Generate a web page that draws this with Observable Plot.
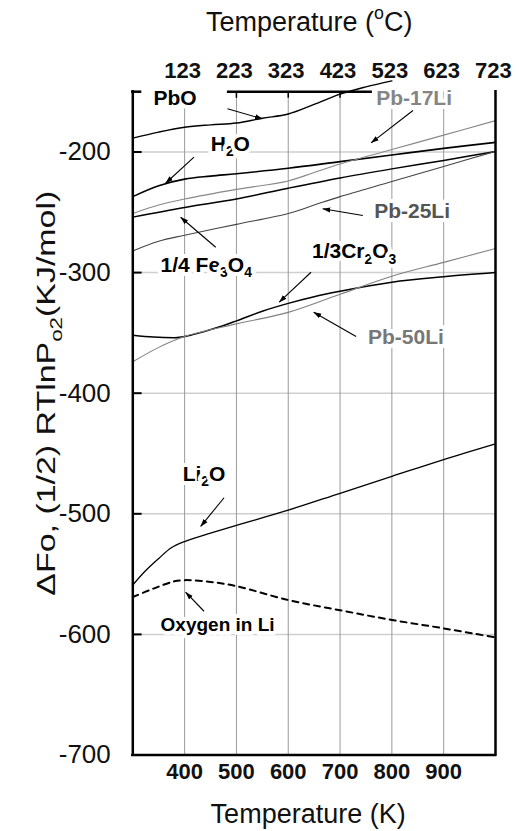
<!DOCTYPE html>
<html><head><meta charset="utf-8">
<script src="https://cdn.jsdelivr.net/npm/d3@7"></script>
<script src="https://cdn.jsdelivr.net/npm/@observablehq/plot@0.6"></script>
<style>
html,body{margin:0;padding:0;background:#fff;}
svg{font-family:"Liberation Sans",Arial,Helvetica,sans-serif;}
</style></head><body><div id="chart"></div>
<script>
// ---- data: [Temperature (K), value (kJ/mol)] ----
const PbO    = [[300,-188.5],[350,-183.5],[400,-179.5],[450,-177.5],[500,-176],[550,-172],[600,-168.5],[650,-160.5],[700,-152],[750,-146],[800,-141]];
const H2O    = [[300,-237],[350,-228],[400,-222.5],[450,-220],[500,-218],[600,-213.5],[700,-208],[800,-202.5],[900,-197],[1000,-192]];
const Pb17Li = [[300,-251],[350,-244],[400,-239],[500,-231],[600,-224],[650,-217],[700,-210],[800,-198],[900,-186],[1000,-174]];
const Fe3O4  = [[300,-254],[400,-246],[500,-239],[600,-230],[700,-221.5],[800,-214],[900,-207],[1000,-199.5]];
const Pb25Li = [[300,-282],[350,-274],[400,-269],[500,-260],[600,-251],[650,-244],[700,-237],[800,-224.5],[900,-212],[1000,-199.5]];
const Cr2O3  = [[300,-352],[340,-353.5],[380,-354],[420,-351],[460,-346],[500,-340],[550,-332],[600,-325.5],[650,-320],[700,-315.5],[800,-308],[900,-303.5],[1000,-300]];
const Pb50Li = [[300,-374],[350,-362],[400,-353],[500,-342.5],[600,-333],[700,-318],[800,-303],[900,-291.5],[1000,-280]];
const Li2O   = [[300,-559],[325,-547],[350,-537],[375,-528],[400,-523],[450,-516],[500,-509.5],[600,-497],[700,-483],[800,-469],[900,-455],[1000,-442]];
const OxygenInLi = [[300,-569],[340,-562],[380,-556],[400,-555],[450,-556.5],[500,-560],[600,-571.5],[700,-580],[800,-588],[900,-595],[1000,-602.5]];

const xTicksK = [400,500,600,700,800,900];
const topTicksC = [123,223,323,423,523,623,723];
const yTicks = [-200,-300,-400,-500,-600,-700];
const yGrid = [-200,-300,-400,-500,-600];
const topFrameSpans = [[300,315],[485,760]];
const topInnerTicks = [500,600,700];

const labels = [
  {text:"PbO", x:340, y:-161.4, fill:"#000", size:21},
  {text:"H_2O", x:450.4, y:-198.8, fill:"#000", size:21},
  {text:"Pb-17Li", x:769.7, y:-161.4, fill:"#858585", size:21},
  {text:"Pb-25Li", x:765.8, y:-255.1, fill:"#555", size:21},
  {text:"1/4 Fe_3O_4", x:353.6, y:-299.2, fill:"#000", size:21},
  {text:"1/3Cr_2O_3", x:645.8, y:-288.3, fill:"#000", size:21},
  {text:"Pb-50Li", x:754, y:-358.8, fill:"#777", size:21},
  {text:"Li_2O", x:396.2, y:-472.4, fill:"#000", size:21},
  {text:"Oxygen in Li", x:353.6, y:-597.2, fill:"#000", size:19}
];
const arrows = [
  {x1:482.7,y1:-164.2,x2:550.4,y2:-172.5},
  {x1:418.1,y1:-204.3,x2:363.3,y2:-225.9},
  {x1:840.7,y1:-165.6,x2:760,y2:-192.4},
  {x1:744,y1:-252.7,x2:666.6,y2:-247.1},
  {x1:460,y1:-279,x2:392.3,y2:-254.1},
  {x1:644,y1:-299.7,x2:582.6,y2:-324.5},
  {x1:731,y1:-353,x2:649.1,y2:-332.8},
  {x1:476.1,y1:-486.7,x2:431,y2:-510.5},
  {x1:437.4,y1:-580.8,x2:402,y2:-565}
];
const yTitle = "ΔFo, (1/2) RTlnP_{o2}(KJ/mol)";

const X = d => d[0], Y = d => d[1];
const curve = "catmull-rom";

const plot = Plot.plot({
  width: 519, height: 831,
  marginLeft: 132.3, marginRight: 24, marginTop: 91.2, marginBottom: 76.5,
  x: {domain:[300,1000], axis:null},
  y: {domain:[-700,-150], axis:null},
  marks: [
    Plot.ruleY(yGrid, {x1:300, x2:1000, stroke:"#cfcfcf", strokeWidth:1.5}),
    Plot.ruleX(xTicksK, {y1:-700, y2:-150, stroke:"#9a9a9a", strokeWidth:1}),
    Plot.line(PbO, {x:X, y:Y, stroke:"#000", strokeWidth:1.4, curve}),
    Plot.line(H2O, {x:X, y:Y, stroke:"#000", strokeWidth:1.6, curve}),
    Plot.line(Pb17Li, {x:X, y:Y, stroke:"#888", strokeWidth:1.1, curve}),
    Plot.line(Fe3O4, {x:X, y:Y, stroke:"#000", strokeWidth:1.5, curve}),
    Plot.line(Pb25Li, {x:X, y:Y, stroke:"#444", strokeWidth:1.1, curve}),
    Plot.line(Cr2O3, {x:X, y:Y, stroke:"#000", strokeWidth:1.5, curve:"monotone-x"}),
    Plot.line(Pb50Li, {x:X, y:Y, stroke:"#808080", strokeWidth:1.1, curve}),
    Plot.line(Li2O, {x:X, y:Y, stroke:"#000", strokeWidth:1.3, curve}),
    Plot.line(OxygenInLi, {x:X, y:Y, stroke:"#000", strokeWidth:2, strokeDasharray:"6,5", curve}),
    Plot.text(labels, {x:"x", y:"y", text:"text", fill:"fill", fontSize:d=>d.size, fontWeight:"bold",
      textAnchor:"start", lineAnchor:"bottom", stroke:"white", strokeWidth:8}),
    // frame
    Plot.ruleX([300,1000], {y1:-700, y2:-150, stroke:"#000", strokeWidth:2.5, strokeLinecap:"square"}),
    Plot.ruleY([-700], {x1:300, x2:1000, stroke:"#000", strokeWidth:2.5, strokeLinecap:"square"}),
    Plot.ruleY(topFrameSpans, {x1:d=>d[0], x2:d=>d[1], y:()=>-150, stroke:"#000", strokeWidth:2.5, strokeLinecap:"square"}),
    Plot.ruleX(topInnerTicks, {y1:-150, y2:-155.5, stroke:"#000", strokeWidth:1.5}),
    Plot.ruleY(yTicks, {x1:300, x2:318, stroke:"#000", strokeWidth:2}),
    // arrows
    Plot.link(arrows, {x1:"x1", y1:"y1", x2:"x2", y2:"y2", stroke:"#000", strokeWidth:1.1}),
    // tick labels
    Plot.text(yTicks, {y:d=>d, frameAnchor:"left", dx:-22, textAnchor:"end", text:d=>String(d), fontSize:26, fill:"#111"}),
    Plot.text(xTicksK, {x:d=>d, frameAnchor:"bottom", dy:8, lineAnchor:"top", text:d=>String(d), fontSize:22, fontWeight:"bold", fill:"#111"}),
    Plot.text(topTicksC, {x:d=>d+273, frameAnchor:"top", dy:-14, lineAnchor:"bottom", text:d=>String(d), fontSize:22, fontWeight:"bold", fill:"#111"}),
    // titles
    Plot.text(["Temperature (^oC)"], {frameAnchor:"top", dx:-5, dy:-61, lineAnchor:"bottom", textAnchor:"middle", fontSize:27, fill:"#111"}),
    Plot.text(["Temperature (K)"], {frameAnchor:"bottom", dx:-6, dy:67.5, lineAnchor:"bottom", textAnchor:"middle", fontSize:27, fill:"#111"}),
    Plot.text([yTitle], {y:()=>-400, frameAnchor:"left", dx:-86, rotate:-90, textAnchor:"middle", lineAnchor:"middle", fontSize:25, fill:"#111"})
  ]
});

document.getElementById("chart").appendChild(plot);

// arrowheads
const svg = d3.select(plot);
svg.insert("defs", ":first-child").append("marker")
  .attr("id","ah").attr("viewBox","0 0 10 10").attr("refX",9.5).attr("refY",5)
  .attr("markerWidth",8).attr("markerHeight",8).attr("markerUnits","userSpaceOnUse").attr("orient","auto")
  .append("path").attr("d","M0,1.8L10,5L0,8.2Z").attr("fill","#000");
svg.selectAll('g[aria-label="link"] path').attr("marker-end","url(#ah)");

// subscripts / superscripts
svg.selectAll("text").each(function(){
  const t = this, s = t.textContent;
  if (!/[_^]/.test(s)) return;
  const isYTitle = s === yTitle;
  const fs = parseFloat(getComputedStyle(t).fontSize) || 16;
  const parts = []; const re = /([_^])(\{[^}]*\}|.)/g; let last = 0, m;
  while ((m = re.exec(s))) {
    if (m.index > last) parts.push({t:s.slice(last,m.index), k:0});
    let v = m[2]; if (v[0]==="{") v = v.slice(1,-1);
    parts.push({t:v, k:m[1]==="_"?1:-1}); last = re.lastIndex;
  }
  if (last < s.length) parts.push({t:s.slice(last), k:0});
  while (t.firstChild) t.removeChild(t.firstChild);
  let shift = 0;
  for (const p of parts) {
    const ts = document.createElementNS("http://www.w3.org/2000/svg","tspan");
    const target = p.k===1 ? 0.27*fs : p.k===-1 ? -0.42*fs : 0;
    ts.setAttribute("dy", target - shift); shift = target;
    if (p.k) ts.setAttribute("font-size", 0.66*fs);
    ts.textContent = p.t; t.appendChild(ts);
  }
  if (isYTitle) { t.setAttribute("textLength", 405); t.setAttribute("lengthAdjust", "spacingAndGlyphs"); }
});
</script></body></html>
